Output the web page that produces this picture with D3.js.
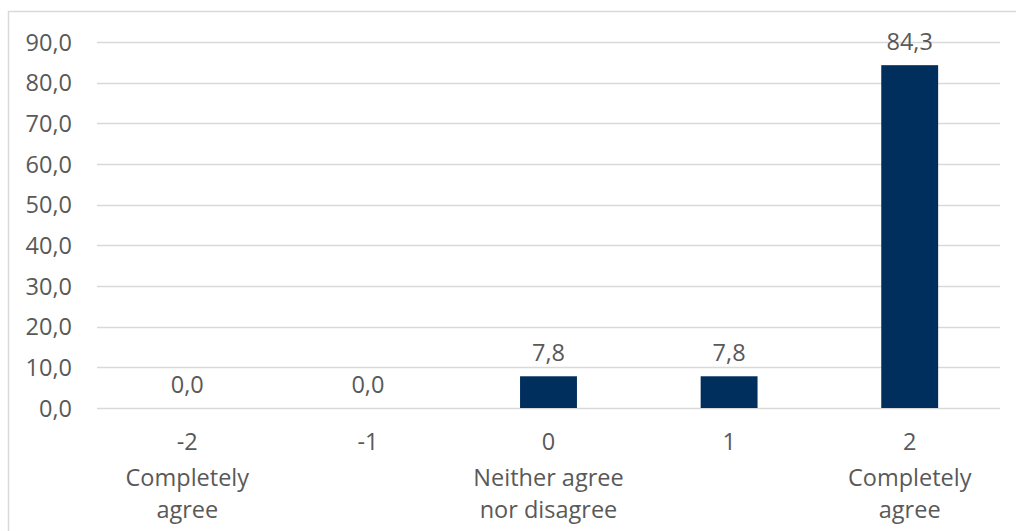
<!DOCTYPE html>
<html>
<head>
<meta charset="utf-8">
<script src="https://cdn.jsdelivr.net/npm/d3@7"></script>
<style>
  body { margin: 0; background: #fff; }
  text { font-family: "Open Sans", sans-serif; fill: #595959; }
</style>
</head>
<body>
<svg id="chart" width="1016" height="531"></svg>
<script>
// data
const categories = ["-2", "-1", "0", "1", "2"];
const subLabels = [["Completely", "agree"], [], ["Neither agree", "nor disagree"], [], ["Completely", "agree"]];
const values = [0.0, 0.0, 7.8, 7.8, 84.3];
const yTicks = [0, 10, 20, 30, 40, 50, 60, 70, 80, 90];

const width = 1016, height = 531;
const margin = { left: 97, right: 16, top: 42, bottom: 123 };
const fontSize = 23.5;
const fmt = v => v.toFixed(1).replace(".", ",");

const svg = d3.select("#chart");

// outer frame
svg.append("rect")
  .attr("x", 8.5).attr("y", 11.5)
  .attr("width", width).attr("height", height)
  .attr("fill", "none").attr("stroke", "#d9d9d9").attr("stroke-width", 1.5);

const x = d3.scaleBand()
  .domain(categories)
  .range([margin.left, width - margin.right])
  .paddingInner(0.685)
  .paddingOuter(0.3425);

const y = d3.scaleLinear()
  .domain([0, 90])
  .range([height - margin.bottom, margin.top]);

// gridlines
svg.append("g")
  .selectAll("line")
  .data(yTicks)
  .join("line")
    .attr("x1", margin.left)
    .attr("x2", width - margin.right)
    .attr("y1", d => Math.round(y(d)) + 0.5)
    .attr("y2", d => Math.round(y(d)) + 0.5)
    .attr("stroke", "#d9d9d9")
    .attr("stroke-width", 1.5);

// y labels
svg.append("g")
  .selectAll("text")
  .data(yTicks)
  .join("text")
    .attr("x", 72)
    .attr("y", d => y(d) + 8.5)
    .attr("text-anchor", "end")
    .attr("font-size", fontSize)
    .text(d => fmt(d));

// bars
svg.append("g")
  .selectAll("rect")
  .data(values)
  .join("rect")
    .attr("x", (d, i) => x(categories[i]))
    .attr("y", d => y(d))
    .attr("width", x.bandwidth())
    .attr("height", d => y(0) - y(d))
    .attr("fill", "#002e5d");

// value labels
svg.append("g")
  .selectAll("text")
  .data(values)
  .join("text")
    .attr("x", (d, i) => x(categories[i]) + x.bandwidth() / 2)
    .attr("y", d => y(d) - 15.5)
    .attr("text-anchor", "middle")
    .attr("font-size", fontSize)
    .text(d => fmt(d));

// x labels
const xl = svg.append("g")
  .selectAll("g")
  .data(categories)
  .join("g")
    .attr("transform", d => `translate(${x(d) + x.bandwidth() / 2},0)`);

xl.append("text")
  .attr("y", 450)
  .attr("text-anchor", "middle")
  .attr("font-size", fontSize)
  .text(d => d);

xl.each(function(d, i) {
  d3.select(this).selectAll("text.sub")
    .data(subLabels[i])
    .join("text")
      .attr("class", "sub")
      .attr("y", (s, j) => 486 + j * 31.5)
      .attr("text-anchor", "middle")
      .attr("font-size", fontSize)
      .text(s => s);
});
</script>
</body>
</html>
